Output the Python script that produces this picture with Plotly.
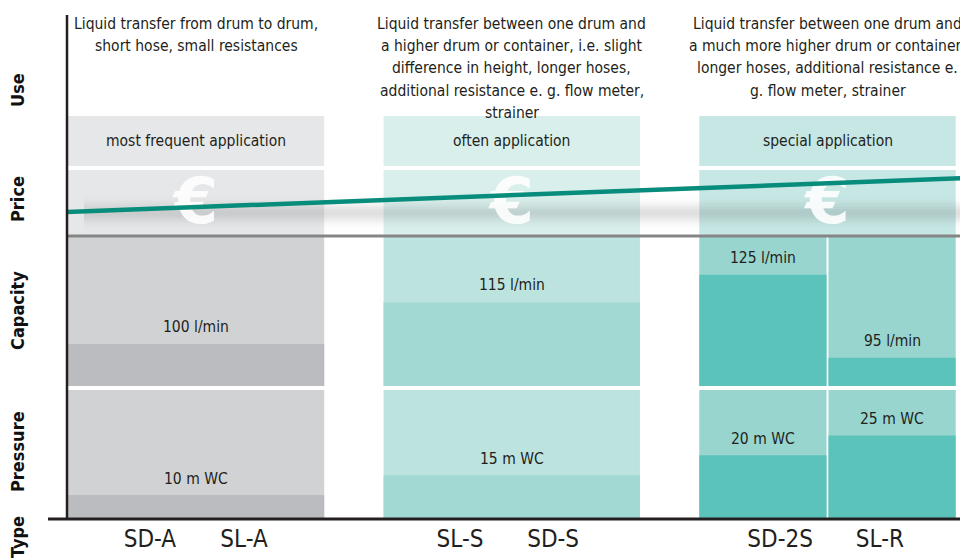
import numpy as np
import plotly.graph_objects as go

# ---------------- data ----------------
use_descriptions = [
    ["Liquid transfer from drum to drum,", "short hose, small resistances"],
    ["Liquid transfer between one drum and", "a higher drum or container, i.e. slight",
     "difference in height, longer hoses,", "additional resistance e. g. flow meter,", "strainer"],
    ["Liquid transfer between one drum and", "a much more higher drum or container,",
     "longer hoses, additional resistance e.", "g. flow meter, strainer"],
]
use_levels = ["most frequent application", "often application", "special application"]
price_levels = [1, 2, 3]            # relative price per application group (low -> high)
bar_names = ["SD-A / SL-A", "SL-S / SD-S", "SD-2S", "SL-R"]
bar_group = [0, 1, 2, 2]
capacity_lpm = [100, 115, 125, 95]
pressure_mwc = [10, 15, 20, 25]
type_labels = ["SD-A", "SL-A", "SL-S", "SD-S", "SD-2S", "SL-R"]
type_group = [0, 0, 1, 1, 2, 2]
row_titles = ["Use", "Price", "Capacity", "Pressure", "Type"]

# ---------------- layout helpers ----------------
OFF = 8                      # page body margin of the browser
W, H = 968 - OFF, 558 - OFF
L, R, T = 67 - OFF, 0, 15 - OFF
B = H - (519 - OFF)
PW, PH = W - L - R, H - T - B


def py(ypx):
    return (H - B - (ypx - OFF)) / PH


def pxp(xpx):
    return (xpx - OFF - L) / PW


FONT = "DejaVu Sans Condensed, Liberation Sans Narrow, Arial Narrow, sans-serif"
TXT = "#231f20"
pale = ["#e6e7e8", "#d9efec", "#c6e7e4"]
light = ["#d1d2d4", "#bde3df", "#98d5cf"]
dark = ["#bbbcbf", "#a3d9d3", "#5cc3bb"]

group_centers = [0.0, 1.0, 2.0]
group_width = 0.812
gap = 0.0063
x_range = [-0.4086, 2.4450]
type_offsets = [-0.146, 0.152, -0.164, 0.131, -0.15, 0.166]

# bar positions derived from group membership
bar_x, bar_w = [], []
for i, g in enumerate(bar_group):
    members = [j for j, gg in enumerate(bar_group) if gg == g]
    n = len(members)
    k = members.index(i)
    sw = (group_width - gap * (n - 1)) / n
    bar_x.append(group_centers[g] - group_width / 2 + sw / 2 + k * (sw + gap))
    bar_w.append(sw)

press_range = [4.0, 36.4]
cap_range = [84.85, 138.6]
price_range = [-1.429, 4.118]
PRICE_DOM = (236, 170)

fig = go.Figure()

shapes = []
annotations = []

# group-wide boxes: use + price
for g, c in enumerate(group_centers):
    x0, x1 = c - group_width / 2, c + group_width / 2
    shapes.append(dict(type="rect", xref="x", yref="paper", x0=x0, x1=x1, y0=py(166), y1=py(116),
                       fillcolor=pale[g], line_width=0, layer="below"))
    shapes.append(dict(type="rect", xref="x", yref="y3 domain", x0=x0, x1=x1, y0=0, y1=1,
                       fillcolor=pale[g], line_width=0, layer="below"))
    annotations.append(dict(xref="x", yref="paper", x=c, y=py(141), text=use_levels[g], showarrow=False,
                            font=dict(size=15.5, color=TXT, family=FONT), xanchor="center", yanchor="middle"))
    for li, line in enumerate(use_descriptions[g]):
        annotations.append(dict(xref="x", yref="paper", x=c, y=py(23.5 + 22.5 * li), text=line,
                                showarrow=False, font=dict(size=15.5, color=TXT, family=FONT),
                                xanchor="center", yanchor="middle"))

# per-bar light backgrounds
for i, g in enumerate(bar_group):
    x0, x1 = bar_x[i] - bar_w[i] / 2, bar_x[i] + bar_w[i] / 2
    for ax in ["y domain", "y2 domain"]:
        shapes.append(dict(type="rect", xref="x", yref=ax, x0=x0, x1=x1, y0=0, y1=1,
                           fillcolor=light[g], line_width=0, layer="below"))

# soft shadow under the price line (thin strips forming a gradient)
for d in range(-22, 22, 2):
    op = 0.17 * np.exp(-((d + 1) / 9.0) ** 2)
    shapes.append(dict(type="rect", xref="paper", yref="paper", x0=pxp(84), x1=1,
                       y0=py(213 + d + 2), y1=py(213 + d),
                       fillcolor=f"rgba(70,70,70,{op:.3f})", line_width=0, layer="below"))

# lines
shapes.append(dict(type="line", xref="paper", yref="paper", x0=0, x1=1, y0=py(236), y1=py(236),
                   line=dict(color="#858585", width=3), layer="above"))
shapes.append(dict(type="line", xref="paper", yref="paper", x0=0, x1=0, y0=0, y1=1,
                   line=dict(color=TXT, width=2.5), layer="above"))
shapes.append(dict(type="line", xref="paper", yref="paper", x0=pxp(48), x1=1, y0=0, y1=0,
                   line=dict(color=TXT, width=3), layer="above"))

# capacity bars
fig.add_trace(go.Bar(x=bar_x, y=capacity_lpm, width=bar_w, xaxis="x", yaxis="y2",
                     marker=dict(color=[dark[g] for g in bar_group], line_width=0),
                     name="Capacity", hoverinfo="skip"))
# pressure bars
fig.add_trace(go.Bar(x=bar_x, y=pressure_mwc, width=bar_w, xaxis="x", yaxis="y",
                     marker=dict(color=[dark[g] for g in bar_group], line_width=0),
                     name="Pressure", hoverinfo="skip"))

for i in range(len(bar_x)):
    annotations.append(dict(xref="x", yref="y2", x=bar_x[i], y=capacity_lpm[i], yshift=17,
                            text=f"{capacity_lpm[i]} l/min", showarrow=False,
                            font=dict(size=15.5, color=TXT, family=FONT)))
    annotations.append(dict(xref="x", yref="y", x=bar_x[i], y=pressure_mwc[i], yshift=16,
                            text=f"{pressure_mwc[i]} m WC", showarrow=False,
                            font=dict(size=15.5, color=TXT, family=FONT)))

# euro symbols (below the price line), slightly below the row middle
units_per_px = (price_range[1] - price_range[0]) / (PRICE_DOM[0] - PRICE_DOM[1])
euro_y = (price_range[0] + price_range[1]) / 2 - 3.5 * units_per_px
fig.add_trace(go.Scatter(x=group_centers, y=[euro_y] * 3, mode="text", text=["€"] * 3,
                         xaxis="x", yaxis="y3", hoverinfo="skip",
                         textfont=dict(size=64, color="rgba(255,255,255,0.88)",
                                       family="DejaVu Sans, sans-serif", weight="bold")))

# price trend line through group price levels, extended over the full width
k, b0 = np.polyfit(group_centers, price_levels, 1)
fig.add_trace(go.Scatter(x=x_range, y=[k * x_range[0] + b0, k * x_range[1] + b0], mode="lines",
                         xaxis="x", yaxis="y3", line=dict(color="#088c7c", width=4.5),
                         hoverinfo="skip", name="Price"))

# row titles
row_centers = [90, 199, 311, 452, 537]
for t, yc in zip(row_titles, row_centers):
    annotations.append(dict(xref="paper", yref="paper", x=pxp(17), y=py(yc), text=f"<b>{t}</b>",
                            showarrow=False, textangle=-90, xanchor="center", yanchor="middle",
                            font=dict(size=18, color="#111111", family=FONT)))

tickvals = [group_centers[g] + o for g, o in zip(type_group, type_offsets)]

fig.update_layout(
    width=W, height=H,
    margin=dict(l=L, r=R, t=T, b=B, pad=0),
    paper_bgcolor="white", plot_bgcolor="white",
    showlegend=False, barmode="overlay",
    shapes=shapes, annotations=annotations,
    xaxis=dict(range=x_range, domain=[0, 1], anchor="y", showgrid=False, zeroline=False, showline=False,
               tickvals=tickvals, ticktext=type_labels, ticks="", ticklabelstandoff=3,
               tickfont=dict(size=24, color=TXT, family=FONT), fixedrange=True),
    yaxis=dict(domain=[0, py(390)], range=press_range, visible=False, fixedrange=True),
    yaxis2=dict(domain=[py(386), py(237)], range=cap_range, visible=False, fixedrange=True),
    yaxis3=dict(domain=[py(PRICE_DOM[0]), py(PRICE_DOM[1])], range=price_range, visible=False,
                fixedrange=True),
)

fig.write_html("out.html")
